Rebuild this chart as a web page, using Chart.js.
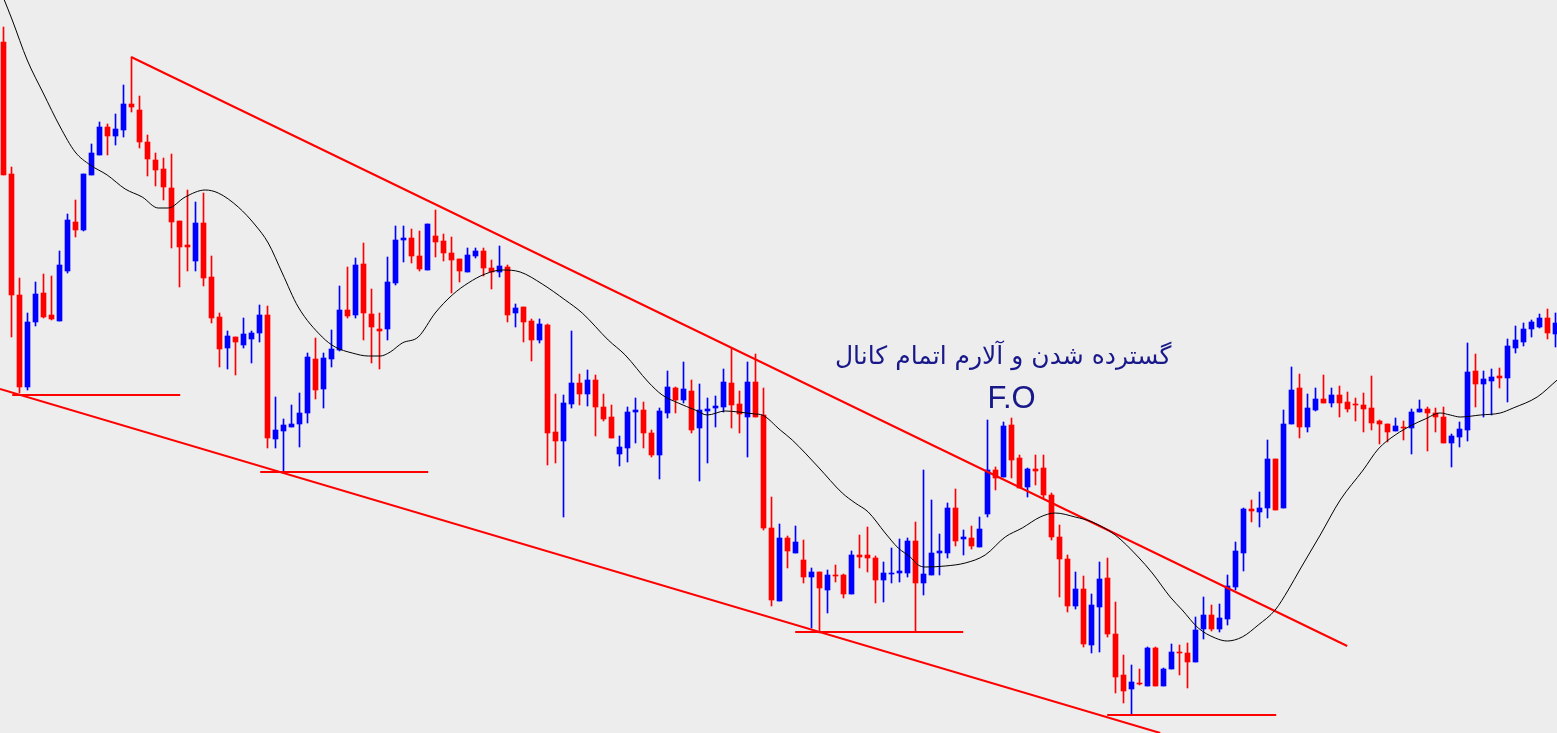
<!DOCTYPE html>
<html>
<head>
<meta charset="utf-8">
<script src="https://cdn.jsdelivr.net/npm/chart.js@4.4.0/dist/chart.umd.min.js"></script>
<style>
html,body{margin:0;padding:0;background:#ededed;overflow:hidden}
#wrap{width:1557px;height:733px;position:relative}
</style>
</head>
<body>
<div id="wrap"><canvas id="c"></canvas></div>
<script>
// OHLC values of each candle (price units)
const opens = [958,826,705,613,678,707,685,679,729,778, 770,825,845,873,864,870,896,890,858,840, 831,812,779,755,739,777,723,683,652,663, 655,661,667,685,561,569,573,576,587,641, 611,641,650,690,685,736,686,671,671,717, 760,762,744,730,764,759,747,741,728,744, 749,732,728,733,687,693,679,660,675,568, 559,596,617,606,620,593,583,546,552,588, 590,567,545,587,612,600,609,572,589,592, 593,617,596,583,618,585,472,399,462,447, 440,423,428,410,425,425,406,445,445,442, 420,426,427,427,459,417,425,447,447,492, 461,462,453,486,530,523,575,542,513,531, 532,505,463,441,394,411,355,393,422,366, 325,311,317,314,352,314,331,348,347,338, 371,385,371,381,413,447,491,488,492,541, 492,576,612,573,590,601,597,605,598,596, 595,592,579,576,569,573,572,588,591,587, 583,557,563,570,629,616,619,624,622,652, 658,671,673,682,666];
const highs = [973,833,722,687,718,726,724,749,786,800, 826,856,878,876,886,915,943,904,865,847, 842,846,779,810,798,807,744,687,669,663, 682,669,695,694,603,581,595,607,647,662, 647,670,714,733,742,757,711,687,743,774, 774,771,769,776,790,766,763,741,752,752, 752,740,754,735,696,693,681,681,676,606, 605,669,626,630,625,606,595,564,593,602, 598,570,592,629,613,638,620,616,602,604, 631,652,609,638,646,612,503,476,464,474, 460,432,428,430,435,426,449,465,473,444, 438,452,461,462,478,530,500,466,497,511, 470,474,483,580,533,578,582,545,532,545, 545,507,475,445,428,424,406,438,442,398, 345,335,331,353,353,332,356,355,357,383, 403,395,396,425,458,492,500,508,560,541, 590,633,626,606,612,625,612,614,608,602, 607,624,580,576,582,579,591,600,593,592, 593,566,578,657,646,629,631,632,661,674, 677,680,686,691,687];
const lows = [825,663,607,610,674,682,680,679,727,763, 769,825,845,845,855,863,888,852,824,814, 800,752,713,729,729,714,677,633,631,625, 652,637,658,552,552,527,573,553,577,601, 592,633,649,682,682,660,637,631,660,715, 738,737,729,730,743,739,707,718,728,742, 724,711,723,678,673,658,639,657,535,537, 483,592,595,594,564,579,562,534,538,557, 552,543,521,582,587,597,567,519,537,573, 588,572,567,543,583,470,394,399,432,447, 417,372,367,387,418,402,406,432,428,397, 398,417,418,423,368,405,425,425,442,454, 445,451,453,483,510,523,522,512,503,515, 502,460,403,388,391,353,347,348,363,307, 297,285,315,314,314,314,331,325,312,338, 361,369,368,375,410,429,478,473,482,490, 492,576,562,568,589,597,593,583,588,579, 568,570,556,558,569,560,546,588,549,568, 557,533,553,559,593,583,585,612,598,647, 654,663,672,661,653];
const closes = [825,705,613,678,706,683,681,735,780,770, 826,847,873,864,871,896,893,858,841,830, 813,778,753,753,777,722,682,651,664,658, 666,667,685,562,570,575,576,587,643,610, 642,651,690,684,735,687,673,669,718,760, 762,744,731,776,758,747,740,729,745,749, 732,728,734,685,692,678,660,676,567,559, 597,617,606,620,593,581,562,553,588,590, 567,545,589,613,600,611,570,590,591,594, 618,595,586,618,583,472,400,462,449,458, 423,428,412,425,424,406,445,443,442,420, 427,427,429,459,417,426,447,449,492,459, 463,454,471,530,522,574,540,512,531,529, 505,463,441,394,411,356,395,421,366,323, 309,318,316,352,314,331,348,347,338,370, 385,371,382,414,449,491,489,492,541,490, 576,610,573,592,601,597,605,597,591,595, 591,577,576,568,574,572,588,591,587,583, 557,564,571,628,616,621,623,622,654,660, 671,678,682,667,677];

// Moving average line (candle index, value)
const maIndex = [0,1.09,2.96,4.96,7.09,8.96,10.84,12.96,15.21,17.34,19.34,20.59,22.71,25.21,26.84,29.34,31.46,33.09,34.84,36.84,39.84,41.46,43.59,45.59,47.09,48.34,49.84,51.84,53.96,56.09,58.09,60.21,62.34,64.59,67.34,70.21,72.34,75.59,77.71,80.59,82.34,84.34,86.46,87.96,90.21,91.84,93.96,94.84,97.09,98.59,101.84,104.84,106.46,108.09,110.21,111.84,113.34,114.34,115.21,117.71,120.21,122.71,125.21,127.34,129.59,131.46,133.96,136.09,138.96,141.84,143.59,145.84,147.34,149.34,151.46,152.96,154.84,156.84,158.96,160.59,162.09,164.59,167.09,169.96,171.84,173.96,176.09,177.71,179.59,180.84,182.09,184.59,187.09,188.71,191.71,194.21];
const maValue = [1002,980,940,907,873,848,835,825,811,803,792,792,803,810,807,793,775,757,727,693,663,653,647,644,644,648,657,663,687,705,717,726,730,728,716,700,687,660,645,618,605,597,590,585,589,588,586,585,570,560,533,507,497,488,467,452,443,435,433,434,437,445,463,472,483,487,483,478,465,443,427,403,390,372,362,359,363,375,390,410,431,465,500,530,551,565,575,581,587,585,583,585,587,592,603,620];

// Channel lines and support levels (candle index, value)
const upperChannel = [[15.96,943],[167.96,354]];
const lowerChannel = [[-0.44,611],[144.59,267]];
const supportFrom = [1.09, 32.09, 98.96, 137.96];
const supportTo = [22.09, 53.09, 119.96, 159.09];
const supportValue = [605, 528, 368, 285];

// Text labels
const labelTexts = ['گسترده شدن و آلارم اتمام کانال', 'F.O'];
const labelIndex = [124.96, 126.0];
const labelValue = [643, 601];

const RED = '#ff0000', BLUE = '#0000ff';
const candleColors = opens.map((o,i) => closes[i] >= o ? BLUE : RED);

const datasets = [];
datasets.push({
  type:'line', label:'MA',
  data: maIndex.map((x,i)=>({x, y: maValue[i]})),
  borderColor:'#000000', borderWidth:1, pointRadius:0, fill:false,
  cubicInterpolationMode:'monotone', order:0
});
datasets.push({
  type:'line', label:'upper',
  data: upperChannel.map(p=>({x:p[0], y:p[1]})),
  borderColor:RED, borderWidth:2, pointRadius:0, fill:false, order:0
});
datasets.push({
  type:'line', label:'lower',
  data: lowerChannel.map(p=>({x:p[0], y:p[1]})),
  borderColor:RED, borderWidth:2, pointRadius:0, fill:false, order:0
});
supportValue.forEach((v,k)=>{
  datasets.push({
    type:'line', label:'support'+k,
    data:[{x:supportFrom[k], y:v},{x:supportTo[k], y:v}],
    borderColor:RED, borderWidth:2, pointRadius:0, fill:false, order:0
  });
});
datasets.push({
  type:'bar', label:'bodies',
  data: opens.map((o,i)=>({x:i, y:[o, closes[i]]})),
  backgroundColor: candleColors, borderWidth:0,
  barThickness:5, minBarLength:1, grouped:false, order:1
});
datasets.push({
  type:'bar', label:'wicks',
  data: lows.map((l,i)=>({x:i, y:[l, highs[i]]})),
  backgroundColor: candleColors, borderWidth:0,
  barThickness:1, grouped:false, order:2
});

const textPlugin = {
  id:'labels',
  afterDatasetsDraw(chart){
    const ctx = chart.ctx, xs = chart.scales.x, ys = chart.scales.y;
    const fonts = ['25px "DejaVu Sans", sans-serif', '31px "Liberation Sans", Arial, sans-serif'];
    ctx.save();
    ctx.fillStyle = '#18188a';
    ctx.textAlign = 'center';
    ctx.textBaseline = 'middle';
    labelTexts.forEach((t,i)=>{
      ctx.font = fonts[i];
      ctx.direction = i === 0 ? 'rtl' : 'ltr';
      ctx.fillText(t, xs.getPixelForValue(labelIndex[i]), ys.getPixelForValue(labelValue[i]));
    });
    ctx.restore();
  }
};

new Chart(document.getElementById('c'), {
  type:'bar',
  data:{ datasets },
  options:{
    responsive:true, maintainAspectRatio:false, animation:false,
    layout:{padding:0},
    plugins:{legend:{display:false}, tooltip:{enabled:false}},
    scales:{
      x:{type:'linear', min:-0.4375, max:194.1875, offset:false, display:false},
      y:{min:267, max:1000, display:false}
    }
  },
  plugins:[textPlugin]
});
</script>
</body>
</html>
